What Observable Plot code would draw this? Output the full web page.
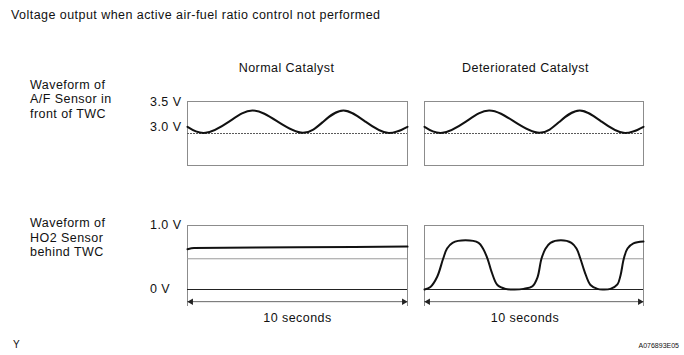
<!DOCTYPE html>
<html><head><meta charset="utf-8">
<script src="https://cdn.jsdelivr.net/npm/d3@7"></script>
<script src="https://cdn.jsdelivr.net/npm/@observablehq/plot@0.6"></script>
<style>
html,body{margin:0;padding:0;background:#fff;}
#chart{position:relative;width:684px;height:355px;overflow:hidden;font-family:"Liberation Sans",Arial,sans-serif;font-size:12.5px;letter-spacing:0.45px;color:#111;}
.t{position:absolute;white-space:nowrap;line-height:14.5px;}
#chart svg{position:absolute;overflow:visible;background:transparent;}
</style></head><body><div id="chart"></div>
<script>
// ---- data ----
const title = "Voltage output when active air-fuel ratio control not performed";
const columns = ["Normal Catalyst", "Deteriorated Catalyst"];
const rowLabelAF = ["Waveform of", "A/F Sensor in", "front of TWC"];
const rowLabelO2 = ["Waveform of", "HO2 Sensor", "behind TWC"];
const afTicks = [3.5, 3.0];
const afTickLabels = ["3.5 V", "3.0 V"];
const o2Ticks = [1.0, 0];
const o2TickLabels = ["1.0 V", "0 V"];
const afReference = 3.0;      // V, dotted line
const o2Reference = 0.48;     // V, grey line
const spanSeconds = 10;
const spanLabel = "10 seconds";
const footLeft = "Y";
const footRight = "A076893E05";

// A/F sensor waveform (same in both columns): time (s), voltage (V)
const afTime = [0, 0.82, 1.89, 2.95, 4.1, 5.25, 6.17, 7.09, 8.09, 9.09, 10];
const afVolt = [3.105, 3.01, 3.185, 3.36, 3.185, 3.01, 3.185, 3.36, 3.185, 3.01, 3.105];

// HO2 sensor, normal catalyst
const o2NormalTime = [0, 0.3, 5, 10];
const o2NormalVolt = [0.63, 0.65, 0.66, 0.67];

// HO2 sensor, deteriorated catalyst
const o2BadTime = [0, 0.27, 0.58, 0.85, 1.03, 1.28, 1.87, 2.47, 2.67, 2.88, 3.06, 3.33, 3.7, 4.11, 4.52, 4.93, 5.16, 5.34, 5.53, 5.75, 6.23, 6.71, 6.94, 7.12, 7.31, 7.58, 7.9, 8.13, 8.49, 8.81, 8.95, 9.1, 9.27, 9.54, 10];
const o2BadVolt = [0.0, 0.04, 0.2, 0.48, 0.64, 0.73, 0.77, 0.73, 0.64, 0.48, 0.28, 0.07, 0.01, 0.0, 0.01, 0.05, 0.19, 0.48, 0.64, 0.73, 0.77, 0.73, 0.64, 0.48, 0.28, 0.07, 0.01, 0.0, 0.01, 0.08, 0.22, 0.48, 0.64, 0.72, 0.75];

// ---- helpers ----
const FONT = '"Liberation Sans", Arial, sans-serif';
const chart = document.getElementById("chart");
const zip = (ts, vs) => ts.map((t, i) => ({t, v: vs[i]}));
const ticks = (vals, labels) => vals.map((v, i) => ({v, label: labels[i]}));
function place(svg, left, top) {
  svg.style.left = left + "px";
  svg.style.top = top + "px";
  chart.appendChild(svg);
}
function htmlText(lines, left, top, extra) {
  const d = document.createElement("div");
  d.className = "t";
  d.style.left = left + "px";
  d.style.top = top + "px";
  if (extra) Object.assign(d.style, extra);
  d.innerHTML = lines.map(s => s.replace(/&/g, "&amp;").replace(/</g, "&lt;")).join("<br>");
  chart.appendChild(d);
}
const svgStyle = {fontFamily: FONT, letterSpacing: "0.45px", background: "transparent", overflow: "visible"};
const textOpts = {fontSize: 12.5, fill: "#111"};

// ---- top row: A/F sensor ----
function afPanel(colIndex, withAxis, width, mLeft, mRight, titleDx) {
  const marks = [
    Plot.frame({stroke: "#8c8c8c"}),
    Plot.ruleY([afReference], {stroke: "#5a5a5a", strokeDasharray: "2,1"}),
    Plot.line(zip(afTime, afVolt), {x: "t", y: "v", curve: "natural", stroke: "#111", strokeWidth: 2}),
    Plot.text([columns[colIndex]], {text: d => d, frameAnchor: "top", dy: -38, dx: titleDx, ...textOpts})
  ];
  if (withAxis) {
    const tk = ticks(afTicks, afTickLabels);
    marks.push(Plot.text(tk.filter(d => d.v === 3.5), {y: "v", text: "label", frameAnchor: "left", textAnchor: "start", dx: -37.5, dy: 0, ...textOpts}));
    marks.push(Plot.text(tk.filter(d => d.v === 3.0), {y: "v", text: "label", frameAnchor: "left", textAnchor: "start", dx: -37.5, dy: -7, ...textOpts}));
  }
  return Plot.plot({
    width, height: 120,
    marginLeft: mLeft, marginRight: mRight, marginTop: 51, marginBottom: 5,
    x: {domain: [0, spanSeconds], axis: null},
    y: {domain: [2.5, 3.5], axis: null},
    style: svgStyle,
    marks
  });
}

// ---- bottom row: HO2 sensor ----
const ARROW_V = -0.19;
function o2Panel(series, curve, withAxis, width, mLeft, mRight, labelDx) {
  const marks = [
    Plot.ruleY([1.0], {stroke: "#8c8c8c"}),
    Plot.ruleX([0, spanSeconds], {stroke: "#8c8c8c"}),
    Plot.ruleY([o2Reference], {stroke: "#9a9a9a"}),
    Plot.ruleY([0], {stroke: "#222"}),
    Plot.ruleY([{y: ARROW_V, a: 0, b: spanSeconds}], {y: "y", x1: "a", x2: "b", stroke: "#666"}),
    Plot.dot([{t: 0, y: ARROW_V}], {x: "t", y: "y", symbol: "triangle", r: 2.4, rotate: -90, dx: 3.6, fill: "#222", stroke: null}),
    Plot.dot([{t: spanSeconds, y: ARROW_V}], {x: "t", y: "y", symbol: "triangle", r: 2.4, rotate: 90, dx: -3.6, fill: "#222", stroke: null}),
    Plot.text([{t: spanSeconds / 2, y: ARROW_V, label: spanLabel}], {x: "t", y: "y", text: "label", dy: 16, dx: labelDx, ...textOpts}),
    Plot.line(series, {x: "t", y: "v", curve, stroke: "#111", strokeWidth: 2})
  ];
  if (withAxis) {
    const tk = ticks(o2Ticks, o2TickLabels);
    marks.push(Plot.text(tk, {y: "v", text: "label", frameAnchor: "left", textAnchor: "start", dx: -37.5, dy: -0.5, ...textOpts}));
  }
  return Plot.plot({
    width, height: 115,
    marginLeft: mLeft, marginRight: mRight, marginTop: 10, marginBottom: 24,
    x: {domain: [0, spanSeconds], axis: null},
    y: {domain: [-0.265625, 1], axis: null},
    style: svgStyle,
    marks
  });
}

// ---- assemble ----
htmlText([title], 11, 7.75);
htmlText(rowLabelAF, 30, 77.75);
htmlText(rowLabelO2, 30, 216);
place(afPanel(0, true, 270, 47, 3, -11), 140, 50);
place(afPanel(1, false, 240, 14, 7, -8.5), 410, 50);
place(o2Panel(zip(o2NormalTime, o2NormalVolt), "monotone-x", true, 270, 47, 3, 0), 140, 215);
place(o2Panel(zip(o2BadTime, o2BadVolt), "catmull-rom", false, 240, 14, 7, -9), 410, 215);
htmlText([footLeft], 13, 338, {fontSize: "10px", letterSpacing: "0"});
htmlText([footRight], 600, 339, {fontSize: "7px", letterSpacing: "0", width: "79px", textAlign: "right"});
</script>
</body></html>
